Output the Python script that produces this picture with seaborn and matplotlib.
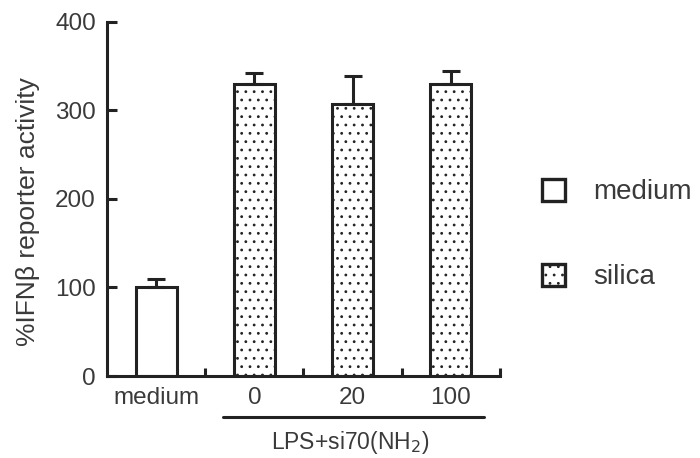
import matplotlib
matplotlib.use("Agg")
import matplotlib.pyplot as plt
import seaborn as sns
import pandas as pd
from matplotlib.patches import Patch
from matplotlib.ticker import FixedLocator

conditions = ["medium", "0", "20", "100"]
groups = ["medium", "silica", "silica", "silica"]
values = [101, 330, 307, 330]
errors = [8, 12, 31, 14]
group_label = "LPS+si70(NH$_2$)"
ylabel = "%IFN\u03b2 reporter activity"
yticks = [0, 100, 200, 300, 400]

sns.set_style("ticks")
plt.rcParams["font.family"] = ["Liberation Sans", "DejaVu Sans"]
plt.rcParams["hatch.color"] = "#a0a0a0"
plt.rcParams["hatch.linewidth"] = 0.8

LC = "#222222"
TC = "#3a3a3a"

df = pd.DataFrame({"cond": conditions, "group": groups, "value": values})

fig = plt.figure(figsize=(7, 4.58), dpi=100)
ax = fig.add_axes([0.153, 0.179, 0.561, 0.774])

sns.barplot(data=df, x="cond", y="value", hue="group", dodge=False,
            palette={"medium": "white", "silica": "white"},
            edgecolor=LC, linewidth=2.2, width=0.42, legend=False, ax=ax,
            order=conditions, hue_order=["medium", "silica"])

for p in ax.patches:
    x = p.get_x() + p.get_width() / 2
    idx = int(round(x))
    if 0 <= idx < len(groups) and groups[idx] == "silica":
        p.set_hatch("..")

ax.errorbar(range(len(values)), values, yerr=[[0] * len(errors), errors],
            fmt="none", ecolor=LC, elinewidth=2.2, capsize=6.5, capthick=2.2,
            zorder=1)

ax.set_xlim(-0.5, 3.5)
ax.set_ylim(0, 400)
ax.set_yticks(yticks)
ax.set_xlabel("")
ax.set_ylabel(ylabel, fontsize=19, color=TC)
ax.yaxis.set_label_coords(-0.17, 0.463)

sns.despine(ax=ax)
for s in ["left", "bottom"]:
    ax.spines[s].set_linewidth(2.2)
    ax.spines[s].set_color(LC)

ax.tick_params(axis="y", direction="in", length=7, width=2.2, color=LC,
               labelsize=17.5, labelcolor=TC, pad=8)
ax.tick_params(axis="x", which="major", length=0, labelsize=17.5,
               labelcolor=TC, pad=8)
ax.xaxis.set_minor_locator(FixedLocator([0.5, 1.5, 2.5, 3.5]))
ax.tick_params(axis="x", which="minor", direction="in", length=6,
               width=2.2, color=LC)

trans = ax.get_xaxis_transform()
ax.plot([0.68, 3.34], [-0.117, -0.117], color=LC, lw=2.2,
        transform=trans, clip_on=False)
ax.text(1.98, -0.187, group_label, transform=trans, ha="center", va="center",
        fontsize=16.5, color=TC)

handles = [Patch(facecolor="white", edgecolor=LC, linewidth=2.4),
           Patch(facecolor="white", edgecolor=LC, linewidth=2.4, hatch="..")]
fig.legend(handles, ["medium", "silica"], loc="center left",
           bbox_to_anchor=(0.774, 0.488), frameon=False, fontsize=20,
           handlelength=0.85, handleheight=0.85, handletextpad=1.0,
           labelspacing=2.1, labelcolor=TC, borderaxespad=0, borderpad=0)

fig.savefig("out.png", dpi=100)
